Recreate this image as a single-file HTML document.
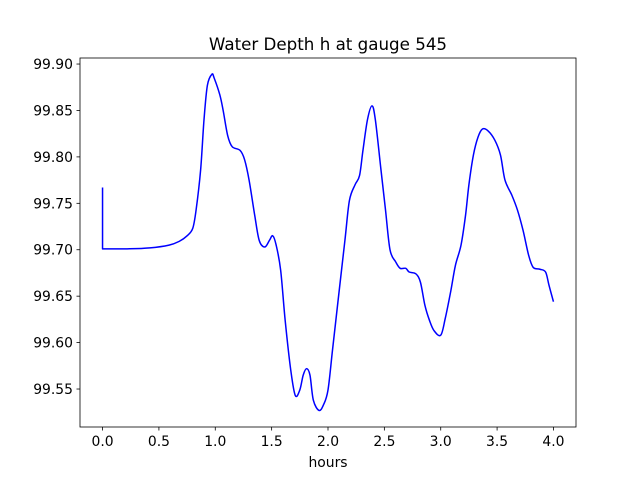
<!DOCTYPE html>
<html><head><meta charset="utf-8"><style>
body{margin:0;background:#fff;}
svg text{font-family:"DejaVu Sans","Liberation Sans",sans-serif;font-size:13.9px;fill:#000;}
</style></head><body>
<svg id="chart" width="640" height="480" xmlns="http://www.w3.org/2000/svg">
<rect width="640" height="480" fill="#fff"/>
<text x="328" y="50" text-anchor="middle" style="font-size:16.7px">Water Depth h at gauge 545</text>
<g id="ticks"></g>
<path id="line" fill="none" stroke="#0000ff" stroke-width="1.5" stroke-linejoin="round"/>
<rect x="80" y="58" width="496" height="369" fill="none" stroke="#000" stroke-width="0.8"/>
<text x="328" y="467" text-anchor="middle">hours</text>
</svg>
<script>
const hours=[0,0,0.24,0.42,0.59,0.68,0.75,0.80,0.83,0.87,0.90,0.93,0.97,0.99,1.04,1.07,1.11,1.15,1.22,1.26,1.30,1.35,1.39,1.44,1.48,1.51,1.54,1.58,1.62,1.67,1.71,1.75,1.78,1.81,1.84,1.87,1.92,1.96,2.00,2.04,2.09,2.15,2.19,2.24,2.28,2.31,2.35,2.39,2.42,2.47,2.51,2.55,2.60,2.64,2.69,2.72,2.78,2.82,2.86,2.90,2.94,3.00,3.04,3.09,3.13,3.18,3.22,3.25,3.29,3.33,3.37,3.42,3.48,3.53,3.57,3.63,3.68,3.73,3.78,3.82,3.88,3.93,3.96,4.00];
const depth=[99.767,99.701,99.701,99.702,99.705,99.709,99.715,99.723,99.743,99.786,99.840,99.877,99.889,99.885,99.867,99.850,99.823,99.811,99.807,99.797,99.775,99.737,99.710,99.703,99.710,99.715,99.705,99.678,99.624,99.570,99.543,99.549,99.565,99.572,99.565,99.538,99.527,99.533,99.549,99.592,99.646,99.710,99.753,99.770,99.780,99.807,99.840,99.855,99.840,99.786,99.743,99.700,99.687,99.680,99.680,99.676,99.674,99.665,99.640,99.624,99.613,99.608,99.626,99.656,99.683,99.705,99.737,99.770,99.802,99.821,99.830,99.828,99.818,99.802,99.775,99.759,99.743,99.721,99.694,99.681,99.679,99.676,99.662,99.644];
const xTicks=[0,0.5,1,1.5,2,2.5,3,3.5,4];
const xTickLabels=["0.0","0.5","1.0","1.5","2.0","2.5","3.0","3.5","4.0"];
const yTicks=[99.55,99.60,99.65,99.70,99.75,99.80,99.85,99.90];
const yTickLabels=["99.55","99.60","99.65","99.70","99.75","99.80","99.85","99.90"];
const X0=80,X1=576,Y0=58,Y1=427,xmin=-0.2,xmax=4.2,ymin=99.5091,ymax=99.9065;
const xs=v=>X0+(v-xmin)/(xmax-xmin)*(X1-X0);
const ys=v=>Y1-(v-ymin)/(ymax-ymin)*(Y1-Y0);
const NS="http://www.w3.org/2000/svg";
const g=document.getElementById('ticks');
xTicks.forEach((t,i)=>{
 const l=document.createElementNS(NS,'line');
 
 
 l.setAttribute('x1',xs(t));l.setAttribute('x2',xs(t));l.setAttribute('y1',Y1);l.setAttribute('y2',Y1+3.5);l.setAttribute('stroke','#000');l.setAttribute('stroke-width','0.8');g.appendChild(l);
 const tx=document.createElementNS(NS,'text');
 
 
 tx.setAttribute('x',xs(t));tx.setAttribute('y',Y1+19);tx.setAttribute('text-anchor','middle');tx.textContent=xTickLabels[i];g.appendChild(tx);
});
yTicks.forEach((t,i)=>{
 const l=document.createElementNS(NS,'line');
 
 
 l.setAttribute('x1',X0-3.5);l.setAttribute('x2',X0);l.setAttribute('y1',ys(t));l.setAttribute('y2',ys(t));l.setAttribute('stroke','#000');l.setAttribute('stroke-width','0.8');g.appendChild(l);
 const tx=document.createElementNS(NS,'text');
 
 
 tx.setAttribute('x',X0-7);tx.setAttribute('y',ys(t)+5);tx.setAttribute('text-anchor','end');tx.textContent=yTickLabels[i];g.appendChild(tx);
});
const P=hours.map((h,i)=>[xs(h),ys(depth[i])]);
let d='M'+P[0][0]+','+P[0][1]+'L'+P[1][0]+','+P[1][1];
for(let i=1;i<P.length-1;i++){
 const p0=P[Math.max(i-1,1)],p1=P[i],p2=P[i+1],p3=P[Math.min(i+2,P.length-1)];
 const c1=[p1[0]+(p2[0]-p0[0])/6,p1[1]+(p2[1]-p0[1])/6];
 const c2=[p2[0]-(p3[0]-p1[0])/6,p2[1]-(p3[1]-p1[1])/6];
 d+='C'+c1.map(v=>v.toFixed(2)).join(',')+' '+c2.map(v=>v.toFixed(2)).join(',')+' '+p2.map(v=>v.toFixed(2)).join(',');
}
document.getElementById('line').setAttribute('d',d);
</script>
</body></html>
